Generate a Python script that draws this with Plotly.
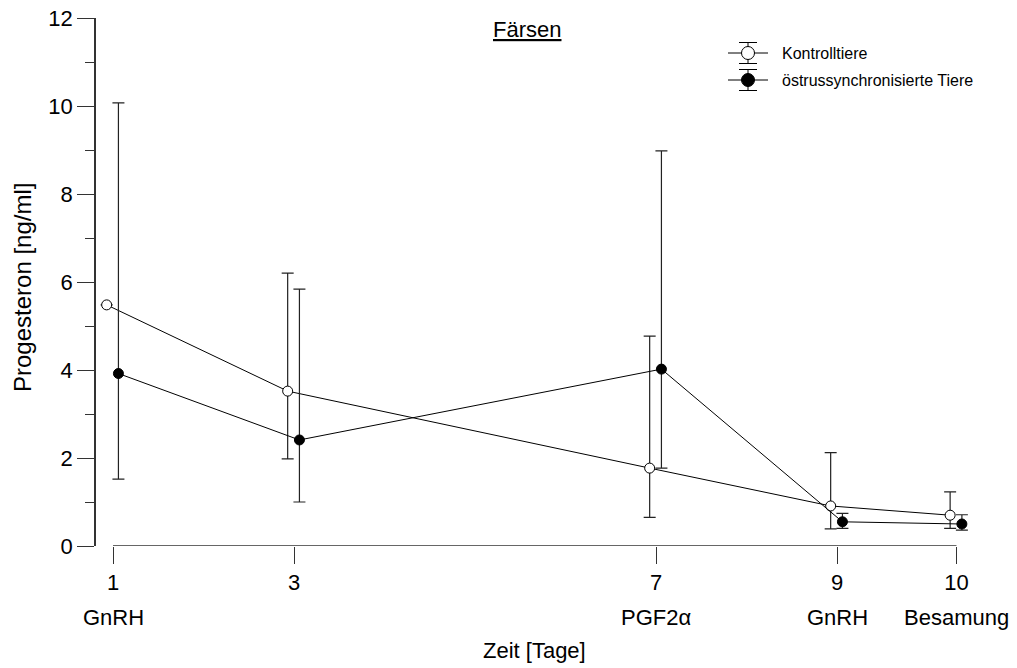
import plotly.graph_objects as go

# Sampling days and where they sit on the time axis (day 10 is drawn a bit further out)
day_labels = ["1", "3", "7", "9", "10"]
day_pos = [1, 3, 7, 9, 10.32]
treatments = ["GnRH", "", "PGF2\u03b1", "GnRH", "Besamung"]

# Progesterone (ng/ml): mean with lower/upper limits of the error bars
ctrl_mean = [5.48, 3.52, 1.77, 0.91, 0.70]
ctrl_upper = [None, 6.20, 4.77, 2.12, 1.23]
ctrl_lower = [None, 1.98, 0.65, 0.39, 0.40]

sync_mean = [3.92, 2.41, 4.02, 0.55, 0.50]
sync_upper = [10.07, 5.84, 8.98, 0.74, 0.71]
sync_lower = [1.52, 1.00, 1.77, 0.40, 0.36]

series_names = ["Kontrolltiere", "östrussynchronisierte Tiere"]

y_ticks = [0, 2, 4, 6, 8, 10, 12]

FONT = "Arial, Liberation Sans, sans-serif"
W, H = 1017, 668
ML, MR, MT, MB = 96, 0, 18, 122
PX_PER_DAY = 90.5
X_LEFT = 1 - (113 - ML) / PX_PER_DAY
X_RIGHT = 1 + (W - MR - 113) / PX_PER_DAY


def plus(vals, lim):
    return [None if l is None else l - v for v, l in zip(vals, lim)]


def minus(vals, lim):
    return [None if l is None else v - l for v, l in zip(vals, lim)]


def px(xp):
    return (xp - ML) / (W - ML - MR)


def py(yp):
    return (H - MB - yp) / (H - MT - MB)


fig = go.Figure()

offsets = [-0.07, 0.06]
means = [ctrl_mean, sync_mean]
uppers = [ctrl_upper, sync_upper]
lowers = [ctrl_lower, sync_lower]
fills = ["white", "black"]

for name, off, m, up, lo, fill in zip(series_names, offsets, means, uppers, lowers, fills):
    fig.add_trace(go.Scatter(
        x=[p + off for p in day_pos],
        y=m,
        name=name,
        mode="lines+markers",
        line=dict(color="black", width=1),
        marker=dict(symbol="circle", size=10, color=fill,
                    line=dict(color="black", width=1)),
        error_y=dict(type="data", symmetric=False,
                     array=plus(m, up), arrayminus=minus(m, lo),
                     color="#222222", thickness=1.2, width=6),
        showlegend=False,
        cliponaxis=False,
    ))

shapes = []
annotations = []

# x axis line running from the first to the last sampling day
shapes.append(dict(type="line", xref="x", yref="y", x0=day_pos[0], x1=day_pos[-1],
                   y0=0, y1=0, line=dict(color="#333333", width=1.5), layer="above"))

# second row of the x tick labels: treatment at each sampling day
for p, t in zip(day_pos, treatments):
    if t:
        annotations.append(dict(x=p, y=py(617), xref="x", yref="paper", text=t,
                                showarrow=False, xanchor="center", yanchor="middle",
                                font=dict(family=FONT, size=22, color="black")))

# axis titles and panel title
annotations.append(dict(x=(day_pos[0] + day_pos[-1]) / 2, y=py(651), xref="x", yref="paper",
                        text="Zeit [Tage]", showarrow=False, xanchor="center", yanchor="middle",
                        font=dict(family=FONT, size=22, color="black")))
annotations.append(dict(x=px(22), y=py(288), xref="paper", yref="paper",
                        text="Progesteron [ng/ml]", textangle=-90, showarrow=False,
                        xanchor="center", yanchor="middle",
                        font=dict(family=FONT, size=24, color="black")))
annotations.append(dict(x=px(527), y=py(30), xref="paper", yref="paper",
                        text="<u>Färsen</u>", showarrow=False, xanchor="center", yanchor="middle",
                        font=dict(family=FONT, size=22, color="black")))

# legend: line with error-bar glyph and marker, then the label
for row_y, name, fill in zip([53, 80], series_names, fills):
    shapes.append(dict(type="line", xref="paper", yref="paper", x0=px(728), x1=px(768),
                       y0=py(row_y), y1=py(row_y), line=dict(color="black", width=1)))
    shapes.append(dict(type="line", xref="paper", yref="paper", x0=px(748), x1=px(748),
                       y0=py(row_y - 10.5), y1=py(row_y + 10.5), line=dict(color="black", width=1)))
    for cy in (row_y - 10.5, row_y + 10.5):
        shapes.append(dict(type="line", xref="paper", yref="paper", x0=px(739), x1=px(757),
                           y0=py(cy), y1=py(cy), line=dict(color="black", width=1)))
    shapes.append(dict(type="circle", xref="paper", yref="paper",
                       xsizemode="pixel", ysizemode="pixel",
                       xanchor=px(748), yanchor=py(row_y),
                       x0=-6.5, x1=6.5, y0=-6.5, y1=6.5,
                       fillcolor=fill, line=dict(color="black", width=1)))
    annotations.append(dict(x=px(780), y=py(row_y), xref="paper", yref="paper", text=name,
                            showarrow=False, xanchor="left", yanchor="middle",
                            font=dict(family=FONT, size=16, color="black")))

fig.update_layout(
    width=W, height=H,
    margin=dict(l=ML, r=MR, t=MT, b=MB, pad=0),
    paper_bgcolor="white", plot_bgcolor="white",
    font=dict(family=FONT, size=22, color="black"),
    shapes=shapes,
    annotations=annotations,
    xaxis=dict(range=[X_LEFT, X_RIGHT], showgrid=False, zeroline=False, showline=False,
               tickmode="array", tickvals=day_pos, ticktext=day_labels,
               ticks="outside", ticklen=17, tickwidth=1.2, tickcolor="#333333",
               tickfont=dict(family=FONT, size=22, color="black")),
    yaxis=dict(range=[0, 12], showgrid=False, zeroline=False,
               showline=True, linecolor="#333333", linewidth=1.5,
               tickmode="array", tickvals=y_ticks,
               ticks="outside", ticklen=17, tickwidth=1.2, tickcolor="#333333",
               minor=dict(dtick=1, ticks="outside", ticklen=9, tickwidth=1.2, tickcolor="#333333"),
               tickfont=dict(family=FONT, size=22, color="black")),
)

fig.write_html("out.html")
